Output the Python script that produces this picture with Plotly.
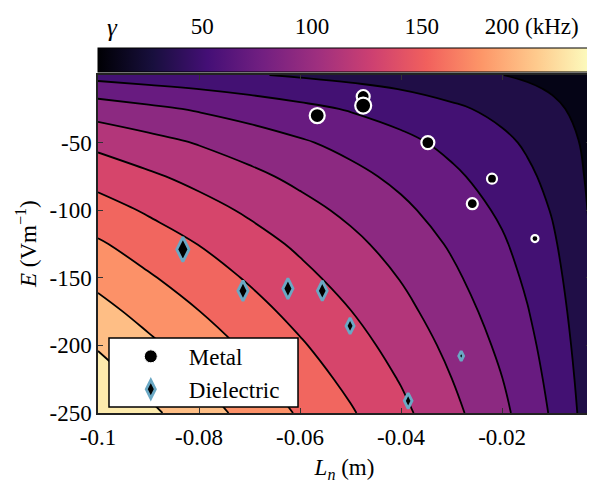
import plotly.graph_objects as go

# ---- data ----
Ln = [-0.1, -0.09, -0.08, -0.07, -0.06, -0.05, -0.04, -0.03, -0.02, -0.015, -0.01, -0.005, -0.0024]
E = [-250, -225, -200, -175, -150, -125, -100, -75, -50, -25, -10, 0]
# growth rate gamma (kHz), rows follow E, columns follow Ln (estimated from contour positions)
gamma = [
    [220.0, 204.2, 189.0, 173.6, 157.8, 142.0, 124.8, 105.4, 84.4, 71.8, 57.5, 39.6, 26.0],
    [209.2, 194.2, 179.7, 165.1, 150.1, 135.0, 118.7, 100.2, 80.3, 68.3, 54.7, 37.7, 24.7],
    [198.2, 184.0, 170.3, 156.4, 142.2, 127.9, 112.4, 95.0, 76.0, 64.7, 51.8, 35.7, 23.4],
    [186.6, 173.2, 160.3, 147.2, 133.8, 120.4, 105.8, 89.4, 71.6, 60.9, 48.8, 33.6, 22.0],
    [174.7, 162.1, 150.1, 137.8, 125.3, 112.7, 99.1, 83.7, 67.0, 57.0, 45.7, 31.4, 20.6],
    [162.4, 150.7, 139.5, 128.1, 116.5, 104.8, 92.1, 77.8, 62.3, 53.0, 42.4, 29.2, 19.2],
    [148.3, 137.6, 127.4, 117.0, 106.4, 95.7, 84.1, 71.0, 56.9, 48.4, 38.8, 26.7, 17.5],
    [132.7, 123.1, 114.0, 104.7, 95.2, 85.6, 75.3, 63.6, 50.9, 43.3, 34.7, 23.9, 15.7],
    [114.8, 106.6, 98.7, 90.6, 82.4, 74.1, 65.1, 55.0, 44.1, 37.5, 30.0, 20.7, 13.6],
    [90.6, 84.1, 77.9, 71.5, 65.0, 58.5, 51.4, 43.4, 34.8, 29.6, 23.7, 16.3, 10.7],
    [69.3, 64.3, 59.5, 54.7, 49.7, 44.7, 39.3, 33.2, 26.6, 22.6, 18.1, 12.5, 8.2],
    [52.6, 48.8, 45.2, 41.5, 37.7, 33.9, 29.8, 25.2, 20.2, 17.2, 13.7, 9.5, 6.2],
]

metal_Ln = [-0.0566, -0.0475, -0.0475, -0.0347, -0.0220, -0.0259, -0.0135]
metal_E = [-30.0, -15.9, -22.6, -50.0, -76.7, -95.2, -121.0]
metal_size = [15, 13, 16, 13, 10, 11, 7]

diel_Ln = [-0.0832, -0.0713, -0.0624, -0.0556, -0.0501, -0.0386, -0.0281]
diel_E = [-129.0, -159.6, -158.0, -159.6, -185.6, -241.0, -207.8]
diel_size = [17.5, 14.5, 14.5, 14, 11.5, 11, 7]

xtick_vals = [-0.1, -0.08, -0.06, -0.04, -0.02]
xtick_text = ['-0.1', '-0.08', '-0.06', '-0.04', '-0.02']
ytick_vals = [-250, -200, -150, -100, -50]
ytick_text = ['-250', '-200', '-150', '-100', '-50']
cbar_vals = [50, 100, 150, 200]
cbar_text = ['50', '100', '150', '200 (kHz)']
cbar_min, cbar_max = 2.6, 227.0

FONT = 'Liberation Serif, Times New Roman, serif'
FS = 23
MAIN_TOP = 0.926     # main plot domain top (paper fraction)
CB_BOTTOM = 0.934    # colour bar band bottom

# discrete band colours (magma samples) for the filled contours
band_colors = ['#050416', '#200e47', '#431173', '#681b80', '#8c2981', '#b3367a',
               '#d6456b', '#f1665f', '#fc9168', '#febe85', '#fdebad']
band_scale = [[i / (len(band_colors) - 1), c] for i, c in enumerate(band_colors)]

fig = go.Figure()

fig.add_trace(go.Contour(
    x=Ln, y=E, z=gamma,
    colorscale=band_scale, showscale=False,
    contours=dict(start=20, end=200, size=20, coloring='fill', showlines=True),
    line=dict(color='black', width=1.8, smoothing=1.2),
    hoverinfo='skip',
))

fig.add_trace(go.Scatter(
    x=metal_Ln, y=metal_E, mode='markers', showlegend=False,
    marker=dict(symbol='circle', size=metal_size, color='black', opacity=1,
                line=dict(color='white', width=2.2)),
))
fig.add_trace(go.Scatter(
    x=diel_Ln, y=diel_E, mode='markers', showlegend=False,
    marker=dict(symbol='diamond-tall', size=diel_size, color='black', opacity=1,
                line=dict(color='#6aa8c4', width=2.8)),
))

# legend entries
fig.add_trace(go.Scatter(
    x=[None], y=[None], mode='markers', name='Metal',
    marker=dict(symbol='circle', size=13, color='black', line=dict(color='white', width=1)),
))
fig.add_trace(go.Scatter(
    x=[None], y=[None], mode='markers', name='Dielectric',
    marker=dict(symbol='diamond-tall', size=13, color='black', line=dict(color='#6aa8c4', width=2.8)),
))

# continuous colour bar on top (gradient only; labels come from the top axis)
fig.add_trace(go.Scatter(
    x=[None], y=[None], mode='markers', showlegend=False, hoverinfo='skip',
    marker=dict(color=[cbar_min], colorscale='Magma', cmin=cbar_min, cmax=cbar_max,
                showscale=True,
                colorbar=dict(orientation='h', x=0, xanchor='left', y=1.0, yanchor='top',
                              len=493, lenmode='pixels', thickness=24, xpad=0, ypad=0,
                              outlinewidth=1, outlinecolor='black',
                              showticklabels=False, ticks='')),
))
# axis carrying the colour-bar tick labels
fig.add_trace(go.Scatter(x=[None], y=[None], xaxis='x2', yaxis='y2', showlegend=False,
                         hoverinfo='skip'))

fig.update_layout(
    width=587, height=475,
    margin=dict(l=90, r=4, t=40, b=70, autoexpand=False),
    paper_bgcolor='white', plot_bgcolor='black',
    font=dict(family=FONT, size=FS, color='black'),
    legend=dict(x=0.030, y=0.214, xanchor='left', yanchor='top', bgcolor='rgba(0,0,0,0)',
                borderwidth=0, font=dict(family=FONT, size=FS),
                itemwidth=66, tracegroupgap=0),
    shapes=[dict(type='rect', xref='paper', yref='paper', x0=0.0223, x1=0.4057,
                 y0=0.0164, y1=0.2055, fillcolor='white',
                 line=dict(color='black', width=1.5), layer='above')],
    xaxis2=dict(domain=[0, 1], anchor='y2', side='top', range=[cbar_min, cbar_max],
                tickvals=cbar_vals, ticktext=cbar_text, ticks='', showline=False,
                showgrid=False, zeroline=False, ticklabelstandoff=8, automargin=False,
                tickfont=dict(family=FONT, size=FS)),
    yaxis2=dict(domain=[CB_BOTTOM, 1], anchor='x2', range=[0, 1], visible=False),
    annotations=[
        dict(text='<i>γ</i>', xref='paper', yref='paper', x=0.030, y=1.0575,
             xanchor='center', yanchor='middle',
             showarrow=False, font=dict(family=FONT, size=FS + 2)),
        dict(text='<i>E</i> (Vm<sup>−1</sup>)', xref='paper', yref='paper',
             x=-0.146, y=MAIN_TOP / 2, textangle=-90, showarrow=False,
             xanchor='center', yanchor='middle', font=dict(family=FONT, size=FS)),
    ],
    xaxis=dict(range=[-0.1, -0.0024], tickvals=xtick_vals, ticktext=xtick_text,
               ticks='inside', ticklen=5, tickcolor='#333', showline=True, linecolor='#222',
               linewidth=1.5, mirror='ticks', showgrid=False, zeroline=False,
               automargin=False, ticklabelstandoff=3,
               tickfont=dict(family=FONT, size=FS),
               title=dict(text='<i>L</i><sub><i>n</i></sub> (m)', standoff=12,
                          font=dict(family=FONT, size=FS))),
    yaxis=dict(domain=[0, MAIN_TOP], range=[-250, 0], tickvals=ytick_vals, ticktext=ytick_text,
               ticks='inside', ticklen=5, tickcolor='#333', showline=True, linecolor='#222',
               linewidth=1.5, mirror='ticks', showgrid=False, zeroline=False,
               automargin=False, ticklabelstandoff=0,
               tickfont=dict(family=FONT, size=FS)),
)

fig.write_html('out.html')
